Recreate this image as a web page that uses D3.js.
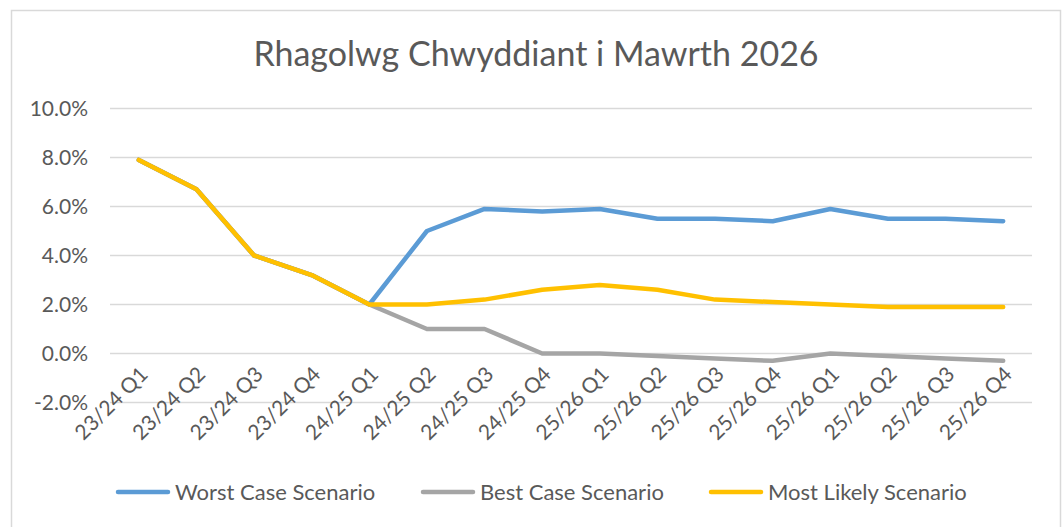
<!DOCTYPE html>
<html>
<head>
<meta charset="utf-8">
<script src="https://cdn.jsdelivr.net/npm/d3@7"></script>
<style>
  body { margin: 0; background: #fff; }
  text { font-family: Lato, "Open Sans", sans-serif; fill: #595959; }
</style>
</head>
<body>
<div id="chart"></div>
<script>
// chart values
const quarters = ["23/24 Q1", "23/24 Q2", "23/24 Q3", "23/24 Q4",
                  "24/25 Q1", "24/25 Q2", "24/25 Q3", "24/25 Q4",
                  "25/26 Q1", "25/26 Q2", "25/26 Q3", "25/26 Q4",
                  "25/26 Q1", "25/26 Q2", "25/26 Q3", "25/26 Q4"];
const worstCase = [7.9, 6.7, 4.0, 3.2, 2.0, 5.0, 5.9, 5.8, 5.9, 5.5, 5.5, 5.4, 5.9, 5.5, 5.5, 5.4];
const bestCase = [7.9, 6.7, 4.0, 3.2, 2.0, 1.0, 1.0, 0.0, 0.0, -0.1, -0.2, -0.3, 0.0, -0.1, -0.2, -0.3];
const mostLikely = [7.9, 6.7, 4.0, 3.2, 2.0, 2.0, 2.2, 2.6, 2.8, 2.6, 2.2, 2.1, 2.0, 1.9, 1.9, 1.9];
const yTicks = [-2, 0, 2, 4, 6, 8, 10];
const seriesNames = ["Worst Case Scenario", "Best Case Scenario", "Most Likely Scenario"];
const seriesColors = ["#5B9BD5", "#A5A5A5", "#FFC000"];

const width = 1064;
const height = 527;
const margin = { top: 108.5, right: 32, bottom: 124, left: 110 };

const svg = d3.select("#chart")
              .append("svg")
              .attr("width", width)
              .attr("height", height);

svg.append("rect")
   .attr("width", width).attr("height", height)
   .attr("fill", "#fff");

// chart frame (bottom edge runs off the picture)
svg.append("rect")
   .attr("x", 11.5).attr("y", 10.5)
   .attr("width", 1049).attr("height", 540)
   .attr("fill", "none")
   .attr("stroke", "#D9D9D9")
   .attr("stroke-width", 1.5);

svg.append("text")
   .attr("x", 536).attr("y", 66)
   .attr("text-anchor", "middle")
   .style("font-size", "34px")
   .text("Rhagolwg Chwyddiant i Mawrth 2026");

const x = d3.scaleBand()
            .domain(d3.range(quarters.length))
            .range([margin.left, width - margin.right]);

const y = d3.scaleLinear()
            .domain([-2, 10])
            .range([height - margin.bottom - 0.5, margin.top]);

// gridlines
svg.append("g")
   .selectAll("line")
   .data(yTicks)
   .enter()
   .append("line")
   .attr("x1", margin.left)
   .attr("x2", width - margin.right)
   .attr("y1", d => y(d))
   .attr("y2", d => y(d))
   .attr("stroke", "#D9D9D9")
   .attr("stroke-width", 1.5);

// y axis labels
const yAxis = svg.append("g")
   .attr("transform", `translate(${margin.left - 22},0)`)
   .call(d3.axisLeft(y).tickValues(yTicks).tickFormat(d => d.toFixed(1) + "%").tickSize(0).tickPadding(0));
yAxis.select(".domain").remove();
yAxis.selectAll("text")
     .attr("dy", "0.35em")
     .style("font-size", "21px");

// x axis labels, rotated
const xAxis = svg.append("g")
   .attr("transform", `translate(0,${y(0)})`)
   .call(d3.axisBottom(x).tickFormat(i => quarters[i]).tickSize(0).tickPadding(0));
xAxis.select(".domain").remove();
xAxis.selectAll("text")
     .style("font-size", "21px")
     .attr("text-anchor", "end")
     .attr("dy", "0.35em")
     .attr("transform", "translate(5,17) rotate(-45)");

// lines
const line = d3.line()
               .x((d, i) => x(i) + x.bandwidth() / 2)
               .y(d => y(d));

const allSeries = [worstCase, bestCase, mostLikely];
svg.append("g")
   .selectAll("path")
   .data(allSeries)
   .enter()
   .append("path")
   .attr("d", d => line(d))
   .attr("fill", "none")
   .attr("stroke", (d, i) => seriesColors[i])
   .attr("stroke-width", 4.5)
   .attr("stroke-linejoin", "round")
   .attr("stroke-linecap", "round");

// legend
const legendX = [118, 423, 711];
const legend = svg.append("g")
   .selectAll("g")
   .data(seriesNames)
   .enter()
   .append("g")
   .attr("transform", (d, i) => `translate(${legendX[i]},492)`);

legend.append("line")
      .attr("x1", 0).attr("x2", 50)
      .attr("stroke", (d, i) => seriesColors[i])
      .attr("stroke-width", 4.5)
      .attr("stroke-linecap", "round");

legend.append("text")
      .attr("x", 57)
      .attr("dy", "0.35em")
      .style("font-size", "22px")
      .text(d => d);
</script>
</body>
</html>
